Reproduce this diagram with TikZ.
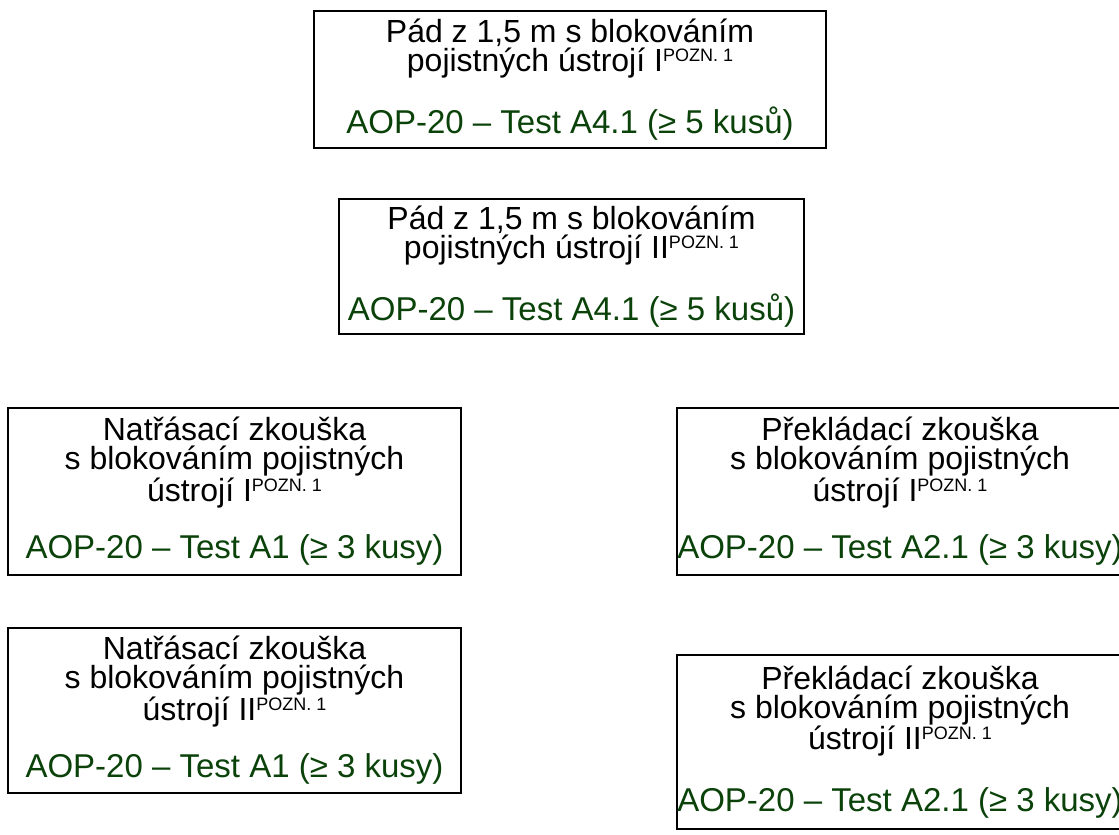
\documentclass[tikz,border=0pt]{standalone}
\usepackage{fontspec}
\setmainfont{Liberation Sans}
\usepackage{xcolor}
\usepackage{tikz}
\usetikzlibrary{positioning}
\definecolor{aopgreen}{RGB}{10,66,10}
\newcommand{\pozn}{\raisebox{10pt}{\fontsize{18}{18}\selectfont POZN.~1}}
\newcommand{\aop}[1]{\textcolor{aopgreen}{\fontsize{33}{30}\selectfont #1}}

\begin{document}
\begin{tikzpicture}[
    x=1pt, y=-1pt,
    testbox/.style={draw, line width=1.6pt, align=center, inner sep=0pt,
        font=\fontsize{32}{29}\selectfont}
]
    \useasboundingbox (0,0) rectangle (1119,835);

    % Drop tests
    \node[testbox, minimum width=512pt, minimum height=137pt] (padI) at (570,79.5)
        {Pád z 1,5 m s blokováním\\pojistných ústrojí I\pozn\\[28pt]
         \aop{AOP-20 – Test A4.1 (≥ 5 kusů)}};
    \node[testbox, minimum width=465pt, minimum height=135pt] (padII) at (571.5,266.5)
        {Pád z 1,5 m s blokováním\\pojistných ústrojí II\pozn\\[28pt]
         \aop{AOP-20 – Test A4.1 (≥ 5 kusů)}};

    % Shaking tests
    \node[testbox, minimum width=453pt, minimum height=167pt] (natrI) at (234.5,491.5)
        {Natřásací zkouška\\s blokováním pojistných\\ústrojí I\pozn\\[26pt]
         \aop{AOP-20 – Test A1 (≥ 3 kusy)}};
    \node[testbox, minimum width=453pt, minimum height=165pt] (natrII) at (234.5,710.5)
        {Natřásací zkouška\\s blokováním pojistných\\ústrojí II\pozn\\[26pt]
         \aop{AOP-20 – Test A1 (≥ 3 kusy)}};

    % Handling tests
    \node[testbox, minimum width=446pt, minimum height=167pt] (prekI) at (900,491.5)
        {Překládací zkouška\\s blokováním pojistných\\ústrojí I\pozn\\[26pt]
         \aop{AOP-20 – Test A2.1 (≥ 3 kusy)}};
    \node[testbox, minimum width=446pt, minimum height=174pt] (prekII) at (900,742)
        {Překládací zkouška\\s blokováním pojistných\\ústrojí II\pozn\\[30pt]
         \aop{AOP-20 – Test A2.1 (≥ 3 kusy)}};
\end{tikzpicture}
\end{document}
